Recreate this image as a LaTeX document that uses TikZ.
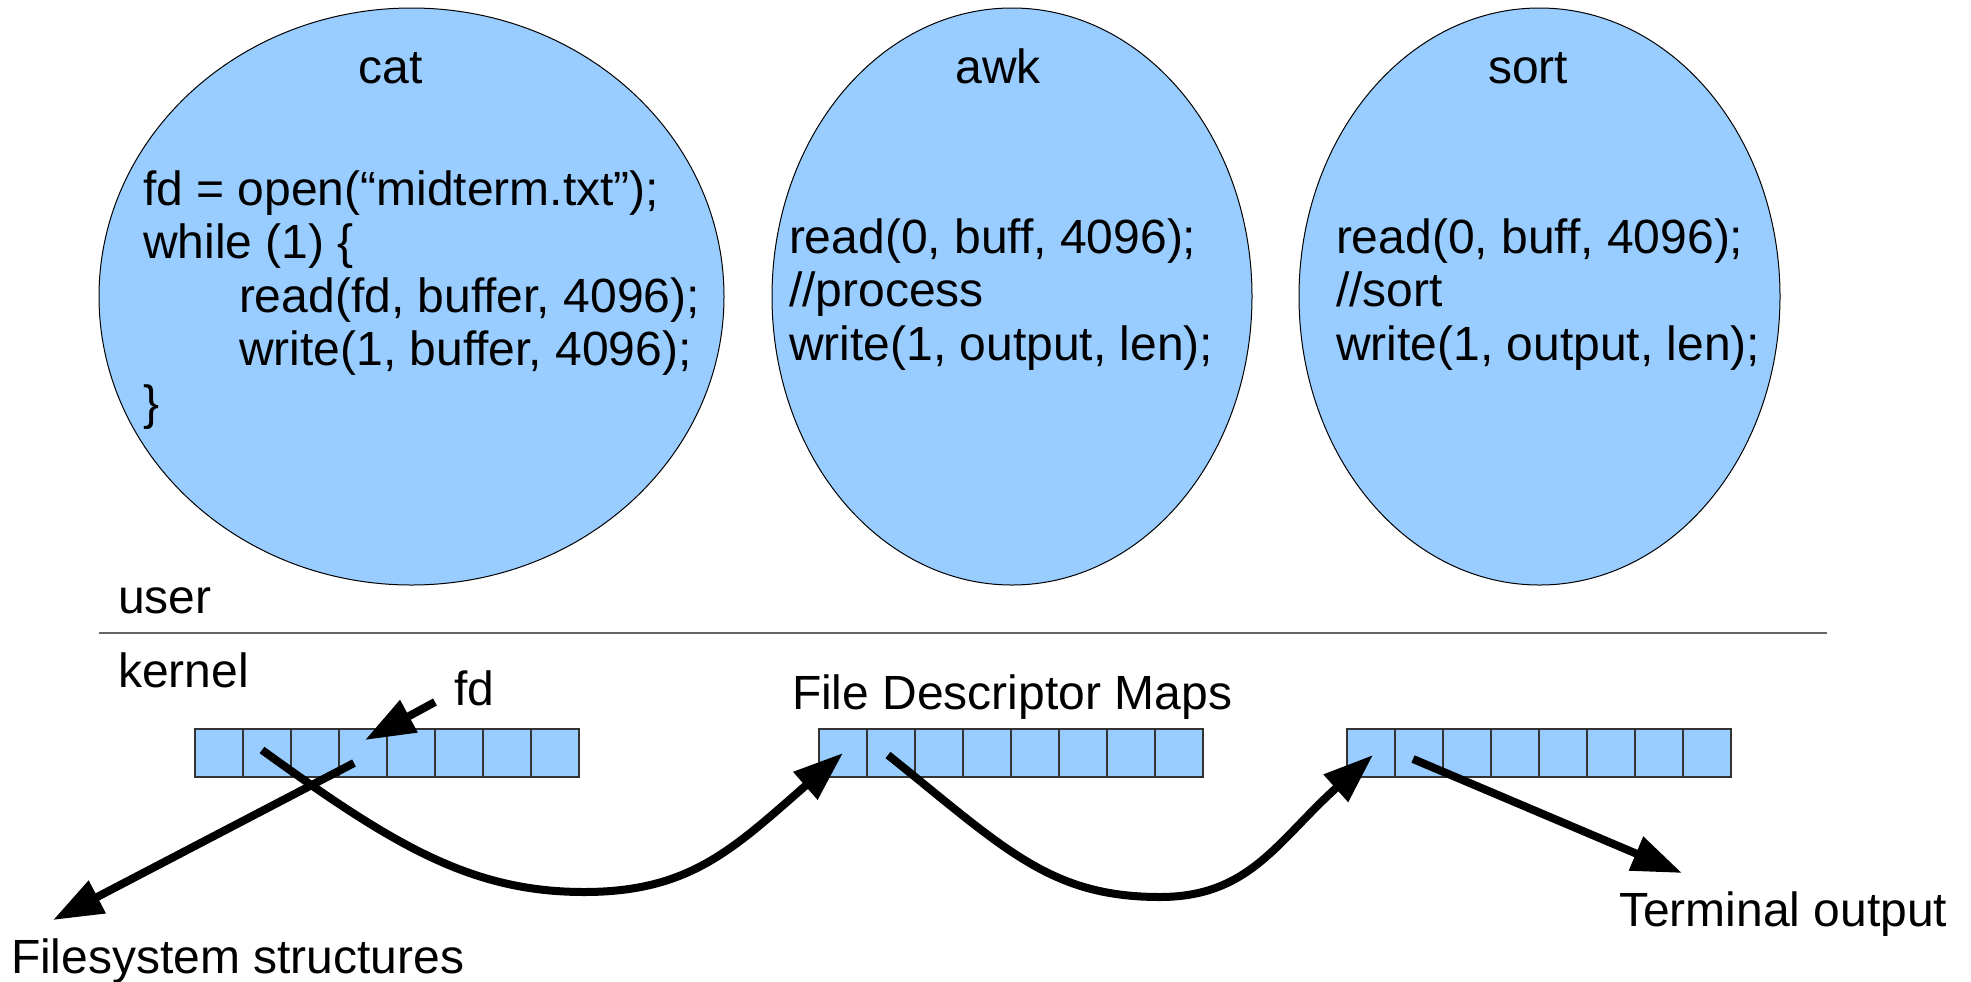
\documentclass[tikz,border=0pt]{standalone}
\usepackage{fontspec}
\setmainfont{Liberation Sans}
\usetikzlibrary{shapes.geometric,arrows.meta,calc}
\definecolor{procblue}{HTML}{99CCFF}
\begin{document}
\begin{tikzpicture}[x=0.5pt,y=-0.5pt,
  every node/.style={inner sep=0pt, outer sep=0pt, font=\fontsize{24}{26.75}\selectfont},
  proc/.style={ellipse, draw=black, line width=0.5pt, fill=procblue, minimum height=288.5pt},
  cell/.style={rectangle, draw=black!80, line width=0.6pt, fill=procblue, minimum width=24pt, minimum height=24pt},
  lbl/.style={anchor=base west},
  ttl/.style={anchor=base},
  bigarrow/.style={line width=4pt, -{Triangle[length=25pt,width=17.5pt]}},
  sepline/.style={draw=black!60, line width=1pt}]
\useasboundingbox (0,0) rectangle (1971,981);

% processes
\node[proc, minimum width=312.5pt] (cat) at (411.5,296.5) {};
\node[proc, minimum width=240pt] (awk) at (1012,296.5) {};
\node[proc, minimum width=240.5pt] (sort) at (1539.5,296.5) {};

\node[ttl] (tcat) at (391,83) {cat};
\node[ttl] (tawk) at (998,83) {awk};
\node[ttl] (tsort) at (1528,83) {sort};

\node[lbl] (catcode) at (143,205) {\begin{tabular}[t]{@{}l@{}}fd = open(“midterm.txt”);\\ while (1) \{\\ \hspace*{48pt}read(fd, buffer, 4096);\\ \hspace*{48pt}write(1, buffer, 4096);\\ \}\end{tabular}};
\node[lbl] (awkcode) at (789,253) {\begin{tabular}[t]{@{}l@{}}read(0, buff, 4096);\\ //process\\ write(1, output, len);\end{tabular}};
\node[lbl] (sortcode) at (1336,253) {\begin{tabular}[t]{@{}l@{}}read(0, buff, 4096);\\ //sort\\ write(1, output, len);\end{tabular}};

% user / kernel
\node[lbl] (user) at (118,613) {user};
\draw[sepline] (99,632.5) -- (1827,632.5);
\node[lbl] (kernel) at (118,687) {kernel};
\node[lbl] (fdlabel) at (454,705) {fd};
\node[lbl] (fdm) at (792,709) {File Descriptor Maps};
\node[lbl] (fs) at (11,973) {Filesystem structures};
\node[lbl] (term) at (1619,926) {Terminal output};

% descriptor maps
\foreach \i in {1,...,8} {
  \node[cell] (a\i) at ({171+48*\i},753) {};
  \node[cell] (b\i) at ({795+48*\i},753) {};
  \node[cell] (c\i) at ({1323+48*\i},753) {};
}

% arrows
\coordinate (fdtail) at (435,702);
\coordinate (fstip) at (53,920);
\coordinate (termtip) at (1682,873);
\draw[bigarrow] (fdtail) -- ([shift={(2,-13)}]a4.center);
\draw[bigarrow] ([shift={(-9,10)}]a4.center) -- (fstip);
\draw[bigarrow] ([shift={(-5,-3)}]a2.center) .. controls (392,844) and (470,892) .. (584,892) .. controls (690,892) and (733,849) .. (b1.center);
\draw[bigarrow] ([shift={(-3,2)}]b2.center) .. controls (1005,849) and (1050,897) .. (1160,897) .. controls (1250,897) and (1278,840) .. ([shift={(2,2)}]c1.center);
\draw[bigarrow] ([shift={(-6,6)}]c2.center) -- (termtip);
\end{tikzpicture}
\end{document}
